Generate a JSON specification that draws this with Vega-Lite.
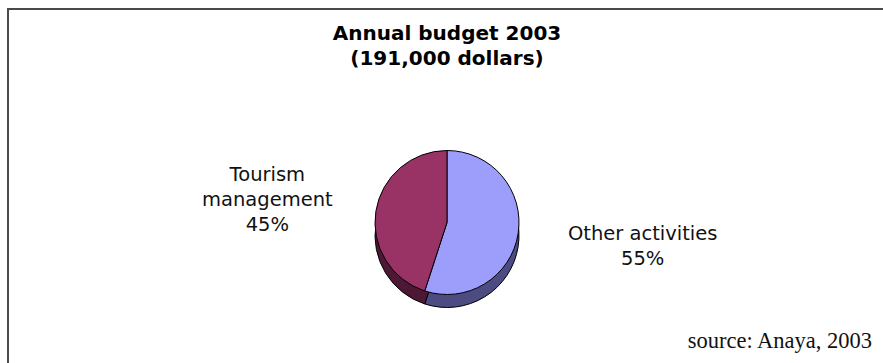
{
  "$schema": "https://vega.github.io/schema/vega-lite/v6.json",
  "width": 883,
  "height": 363,
  "autosize": {"type": "fit", "contains": "padding"},
  "padding": {"left": 8, "top": 9, "right": -3, "bottom": -3},
  "background": "white",
  "config": {"view": {"stroke": "#4a4a4a", "strokeWidth": 2}, "font": "DejaVu Sans"},
  "title": {
    "text": ["Annual budget 2003", "(191,000 dollars)"],
    "anchor": "middle",
    "frame": "group",
    "baseline": "top",
    "offset": -60,
    "fontSize": 20,
    "fontWeight": "bold",
    "lineHeight": 25,
    "color": "#000000",
    "font": "DejaVu Sans"
  },
  "layer": [
    {
      "data": {"name": "budget"},
      "mark": {"type": "arc", "outerRadius": 72, "yOffset": 48, "stroke": "#000000", "strokeWidth": 1},
      "encoding": {
        "theta": {"field": "value", "type": "quantitative", "stack": true},
        "order": {"field": "value", "sort": "descending"},
        "color": {"field": "category", "type": "nominal", "legend": null,
          "scale": {"domain": ["Other activities", "Tourism management"], "range": ["#4c4c82", "#4d1833"]}}
      }
    },
    {
      "data": {"name": "budget"},
      "mark": {"type": "arc", "outerRadius": 72, "yOffset": 35, "stroke": "#000000", "strokeWidth": 1},
      "encoding": {
        "theta": {"field": "value", "type": "quantitative", "stack": true},
        "order": {"field": "value", "sort": "descending"},
        "color": {"field": "category", "type": "nominal", "legend": null,
          "scale": {"domain": ["Other activities", "Tourism management"], "range": ["#9d9dfc", "#993366"]}}
      }
    },
    {
      "data": {"name": "budget"},
      "mark": {"type": "text", "radius": 190, "xOffset": 8, "yOffset": 17, "fontSize": 19.5, "lineHeight": 25, "lineBreak": "\n", "align": "center", "baseline": "middle", "color": "#111111", "font": "DejaVu Sans"},
      "encoding": {
        "theta": {"field": "value", "type": "quantitative", "stack": true},
        "order": {"field": "value", "sort": "descending"},
        "text": {"field": "label", "type": "nominal"}
      }
    },
    {
      "data": {"values": [{"source": "source: Anaya, 2003"}]},
      "mark": {"type": "text", "align": "right", "baseline": "alphabetic", "font": "Liberation Serif", "fontSize": 22.5, "dx": -14, "dy": -18, "color": "#111111"},
      "encoding": {
        "x": {"value": "width"},
        "y": {"value": "height"},
        "text": {"field": "source", "type": "nominal"}
      }
    }
  ],
  "datasets": {
    "budget": [
      {"category": "Other activities", "value": 55, "label": "Other activities\n55%"},
      {"category": "Tourism management", "value": 45, "label": "Tourism\nmanagement\n45%"}
    ]
  },
  "resolve": {"scale": {"color": "independent"}}
}
